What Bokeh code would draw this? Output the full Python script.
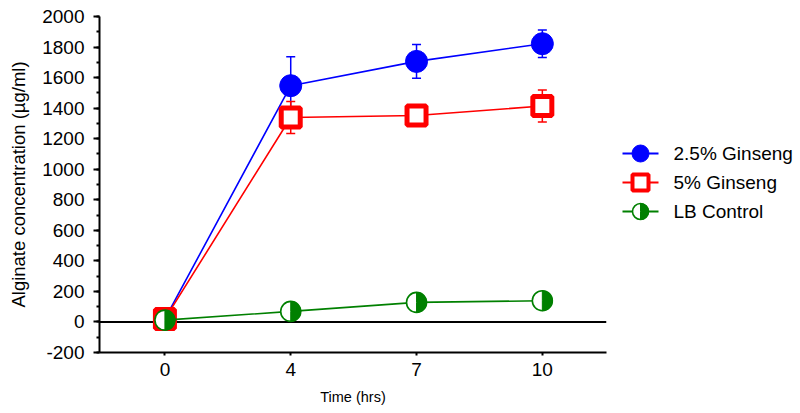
import numpy as np
from bokeh.plotting import figure
from bokeh.models import (Range1d, ColumnDataSource, Whisker, TeeHead, Span,
                          FixedTicker, SingleIntervalTicker)
from bokeh.layouts import row
from bokeh.embed import file_html
from bokeh.resources import INLINE
from bokeh.core.properties import value

# ---------------- data ----------------
times = ["0", "4", "7", "10"]
ginseng25 = [20, 1547, 1706, 1822]
ginseng25_err = [0, 190, 110, 90]
ginseng5 = [20, 1339, 1352, 1414]
ginseng5_err = [0, 105, 40, 105]
lb_control = [12, 69, 128, 139]
lb_err = [0, 0, 0, 0]
names = ["2.5% Ginseng", "5% Ginseng", "LB Control"]
colors = ["#0000ff", "#ff0000", "#008000"]
y_ticks_interval = 200
y_tick_label_fix = {-200: "-200"}

FONT = "Liberation Sans"
xi = list(range(len(times)))

H = 412
TOP = 16
FH = 336
p = figure(width=611, height=H, output_backend="svg", toolbar_location=None,
           x_range=Range1d(-0.52, 3.51), y_range=Range1d(-200, 2000),
           min_border_left=99, min_border_right=5, min_border_top=TOP,
           min_border_bottom=H - TOP - FH)
p.outline_line_color = None
p.xgrid.visible = False
p.ygrid.visible = False
p.background_fill_color = "white"

# zero line beneath markers
p.add_layout(Span(location=0, dimension="width", line_color="black",
                  line_width=2, level="underlay"))

# axes
p.xaxis.ticker = FixedTicker(ticks=xi, minor_ticks=[])
p.xaxis.major_label_overrides = {i: t for i, t in zip(xi, times)}
p.yaxis.ticker = SingleIntervalTicker(interval=y_ticks_interval, num_minor_ticks=2)
p.yaxis.major_label_overrides = y_tick_label_fix
for ax in (p.xaxis[0], p.yaxis[0]):
    ax.axis_line_width = 2
    ax.axis_line_color = "black"
    ax.major_tick_line_width = 2
    ax.major_tick_line_color = "black"
    ax.major_tick_in = 0
    ax.minor_tick_in = 0
    ax.major_label_text_font = FONT
    ax.major_label_text_font_size = "19px"
    ax.major_label_text_color = "black"
    ax.axis_label_text_font = FONT
    ax.axis_label_text_font_style = "normal"
    ax.axis_label_text_color = "black"
p.xaxis.major_tick_out = 3
p.xaxis.minor_tick_out = 0
p.xaxis.major_label_standoff = 7
p.xaxis.axis_label = "Time (hrs)"
p.xaxis.axis_label_text_font_size = "14.5px"
p.xaxis.axis_label_standoff = 10
p.yaxis.major_tick_out = 6
p.yaxis.minor_tick_out = 3
p.yaxis.minor_tick_line_width = 2
p.yaxis.minor_tick_line_color = "black"
p.yaxis.major_label_standoff = 9
p.yaxis.axis_label = "Alginate concentration (\u00b5g/ml)"
p.yaxis.axis_label_text_font_size = "18.5px"
p.yaxis.axis_label_standoff = 10


def add_err(vals, errs, color):
    src = ColumnDataSource(dict(x=xi,
                                lo=[v - e for v, e in zip(vals, errs)],
                                hi=[v + e for v, e in zip(vals, errs)]))
    w = Whisker(source=src, base="x", lower="lo", upper="hi",
                line_color=color, line_width=1.5, level="underlay",
                upper_head=TeeHead(size=9, line_color=color, line_width=1.5),
                lower_head=TeeHead(size=9, line_color=color, line_width=1.5))
    p.add_layout(w)


# 2.5% Ginseng
add_err(ginseng25, ginseng25_err, colors[0])
p.line(xi, ginseng25, line_color=colors[0], line_width=1.6)
p.scatter(xi, ginseng25, marker="circle", size=22, fill_color=colors[0],
          line_color=colors[0], line_width=1)

# 5% Ginseng
add_err(ginseng5, ginseng5_err, colors[1])
p.line(xi, ginseng5, line_color=colors[1], line_width=1.6)
p.scatter(xi, ginseng5, marker="square", size=19, fill_color="white",
          line_color=colors[1], line_width=5)

# LB Control
add_err(lb_control, lb_err, colors[2])
p.line(xi, lb_control, line_color=colors[2], line_width=1.6)
p.scatter(xi, lb_control, marker="circle", size=20, fill_color="white",
          line_color=colors[2], line_width=1.6)
p.wedge(xi, lb_control, radius=10, radius_units="screen",
        start_angle=-np.pi / 2, end_angle=np.pi / 2,
        fill_color=colors[2], line_color=colors[2], line_width=1)

# ---------------- legend panel ----------------
LW = 188
leg = figure(width=LW, height=H, output_backend="svg", toolbar_location=None,
             x_range=Range1d(0, LW), y_range=Range1d(0, FH),
             x_axis_location=None, y_axis_location=None,
             min_border=0, min_border_left=0, min_border_right=0,
             min_border_top=TOP, min_border_bottom=H - TOP - FH)
leg.grid.visible = False
leg.outline_line_color = None

# row centres measured from the top of the page
leg_rows_from_top = [153, 182, 211]
leg_y = [FH - (r - TOP) for r in leg_rows_from_top]
line_x0, line_x1, mk_x, txt_x = 11, 47, 29, 62
for yy, c in zip(leg_y, colors):
    leg.line([line_x0, line_x1], [yy, yy], line_color=c, line_width=2)
leg.scatter([mk_x], [leg_y[0]], marker="circle", size=17, fill_color=colors[0],
            line_color=colors[0])
leg.scatter([mk_x], [leg_y[1]], marker="square", size=16, fill_color="white",
            line_color=colors[1], line_width=4)
leg.scatter([mk_x], [leg_y[2]], marker="circle", size=16, fill_color="white",
            line_color=colors[2], line_width=1.6)
leg.wedge([mk_x], [leg_y[2]], radius=8, radius_units="screen",
          start_angle=-np.pi / 2, end_angle=np.pi / 2,
          fill_color=colors[2], line_color=colors[2], line_width=1)
leg.text([txt_x] * 3, leg_y, text=names, text_baseline="middle",
         text_align="left", text_font=value(FONT), text_font_size="19px",
         text_color="black")

layout = row(p, leg, spacing=0)
open("out.html", "w").write(file_html(layout, INLINE))
